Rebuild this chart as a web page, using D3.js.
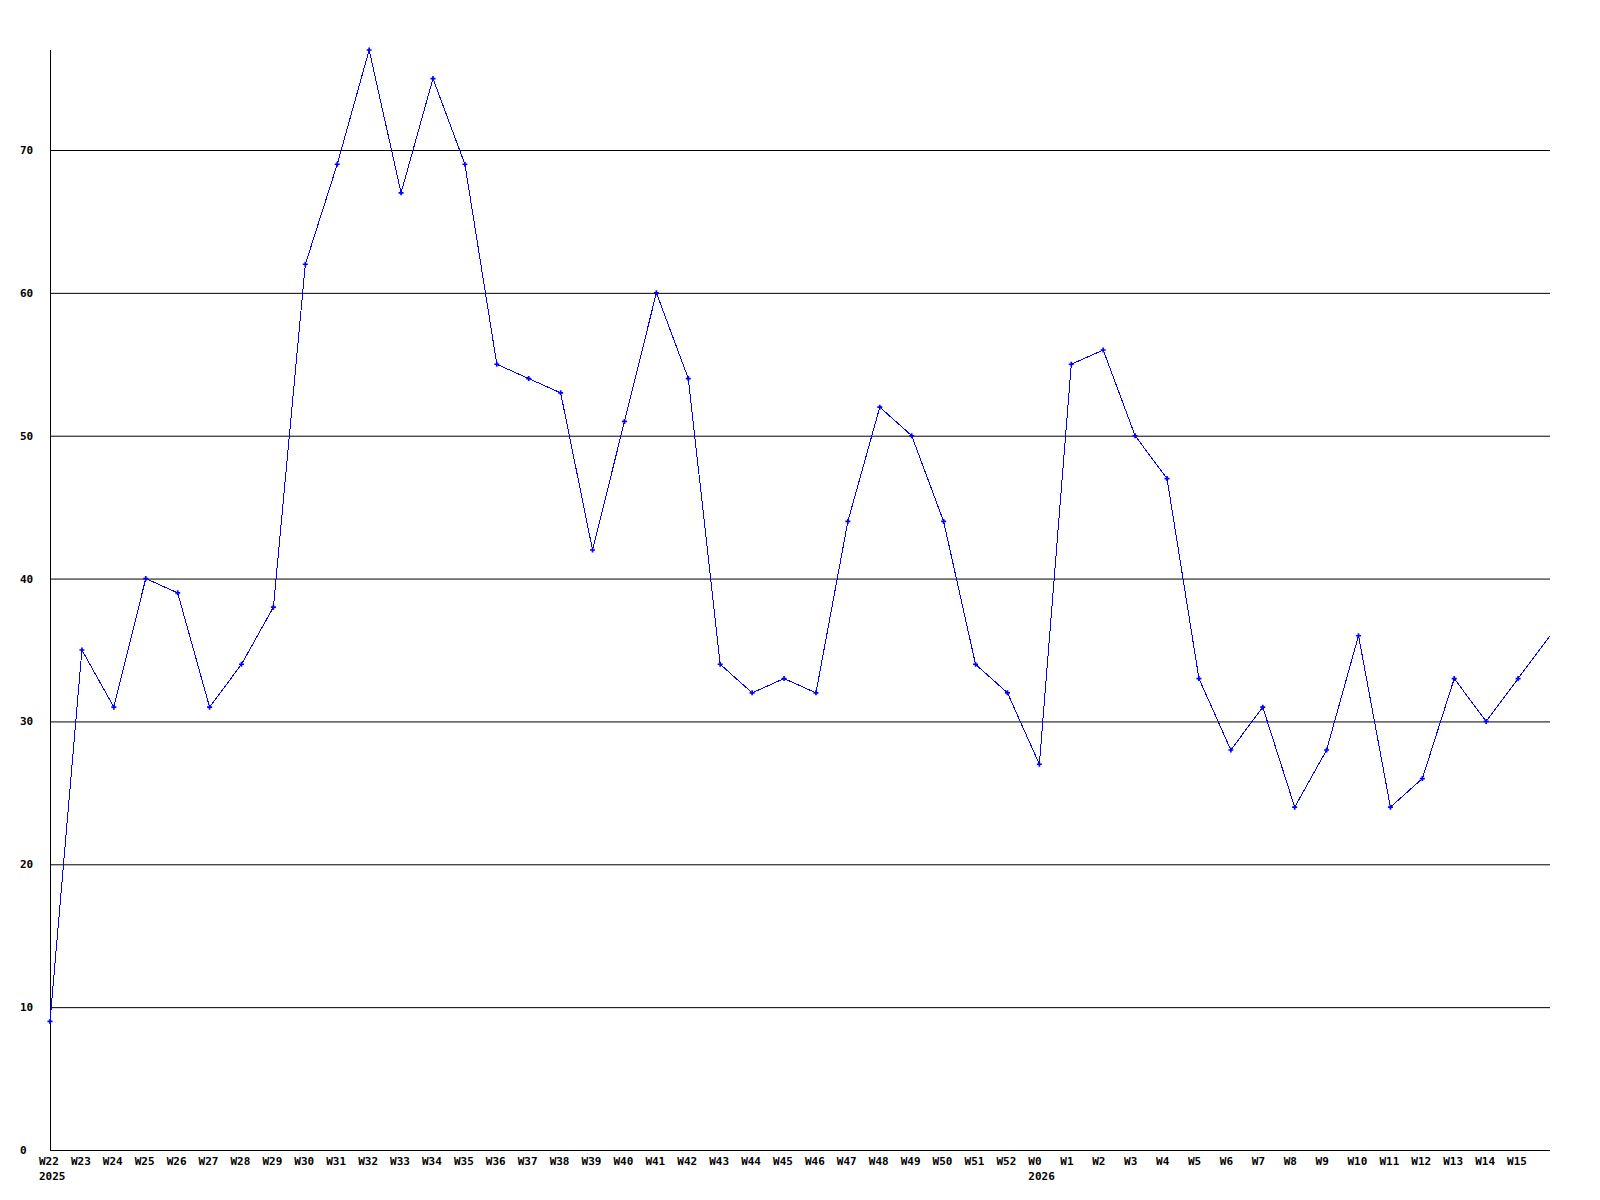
<!DOCTYPE html>
<html>
<head>
<script src="https://d3js.org/d3.v7.min.js"></script>
<style>
  body { margin: 0; background: #fff; overflow: hidden; }
  svg text { font-family: "DejaVu Sans Mono", monospace; font-weight: bold; font-size: 11px; fill: #000; }
</style>
</head>
<body>
<svg></svg>
<script>
// week labels, the last point (W16) sits on the right edge and has no label
const weeks = ["W22","W23","W24","W25","W26","W27","W28","W29","W30","W31","W32","W33","W34","W35","W36","W37","W38","W39","W40","W41","W42","W43","W44","W45","W46","W47","W48","W49","W50","W51","W52",
               "W0","W1","W2","W3","W4","W5","W6","W7","W8","W9","W10","W11","W12","W13","W14","W15","W16"];
const values = [9,35,31,40,39,31,34,38,62,69,77,67,75,69,55,54,53,42,51,60,54,34,32,33,32,44,52,50,44,34,32,
                27,55,56,50,47,33,28,31,24,28,36,24,26,33,30,33,36];
const years = [{week: "W22", label: "2025"}, {week: "W0", label: "2026"}];
const yTicks = [0,10,20,30,40,50,60,70];

const width = 1600, height = 1200;
const svg = d3.select("svg").attr("width", width).attr("height", height);

const x = d3.scalePoint().domain(weeks).range([50, 1550]);
const y = d3.scaleLinear().domain([0, 77]).range([1150, 50]);

// grid lines
svg.append("g").selectAll("line")
  .data(yTicks.filter(d => d > 0))
  .enter().append("line")
  .attr("x1", 50).attr("x2", 1550)
  .attr("y1", d => y(d) + 0.5).attr("y2", d => y(d) + 0.5)
  .attr("stroke", "#000").attr("stroke-width", 1);

// axes
svg.append("line").attr("x1", 50.5).attr("x2", 50.5).attr("y1", 50).attr("y2", 1150)
  .attr("stroke", "#000");
svg.append("line").attr("x1", 50).attr("x2", 1550).attr("y1", 1150.5).attr("y2", 1150.5)
  .attr("stroke", "#000");

svg.append("g").selectAll("text")
  .data(yTicks)
  .enter().append("text")
  .attr("x", 20)
  .attr("y", d => y(d) + 4)
  .text(d => d);

svg.append("g").selectAll("text")
  .data(weeks.slice(0, -1))
  .enter().append("text")
  .attr("x", d => x(d) - 11)
  .attr("y", 1165)
  .text(d => d);

svg.append("g").selectAll("text")
  .data(years)
  .enter().append("text")
  .attr("x", d => x(d.week) - 11)
  .attr("y", 1180)
  .text(d => d.label);

const pts = weeks.map((w, i) => ({w, v: values[i]}));

svg.append("path")
  .datum(pts)
  .attr("fill", "none")
  .attr("stroke", "#0000ff")
  .attr("stroke-width", 1)
  .attr("shape-rendering", "crispEdges")
  .attr("d", d3.line().x(d => x(d.w)).y(d => y(d.v)));

svg.append("g").selectAll("path")
  .data(pts.slice(0, -1))
  .enter().append("path")
  .attr("transform", d => `translate(${x(d.w)},${y(d.v)})`)
  .attr("d", d3.symbol().type(d3.symbolCross).size(14))
  .attr("fill", "#0000ff");
</script>
</body>
</html>
